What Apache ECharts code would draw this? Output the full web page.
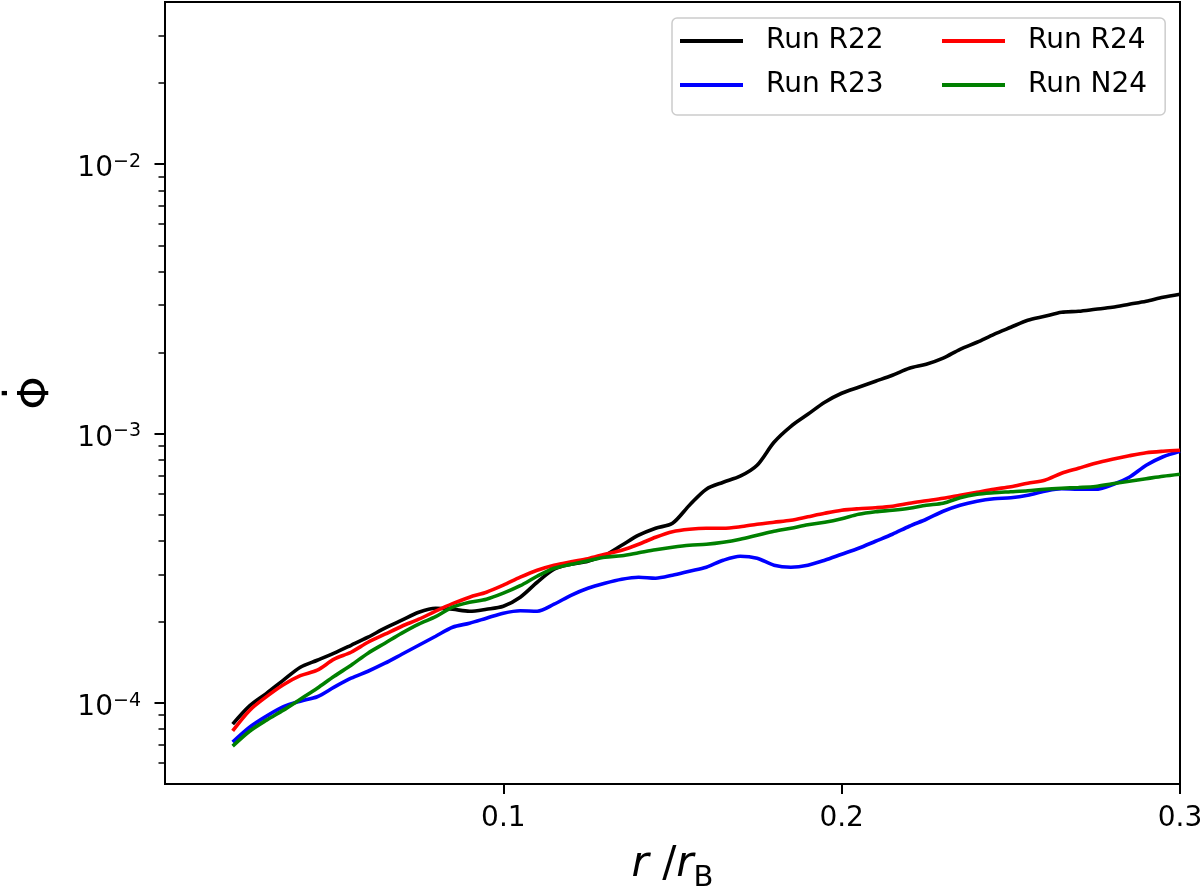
<!DOCTYPE html>
<html>
<head>
<meta charset="utf-8">
<title>Phi dot vs r / rB</title>
<script src="https://cdn.jsdelivr.net/npm/echarts@6/dist/echarts.min.js"></script>
<style>
  html, body { margin: 0; padding: 0; background: #ffffff; }
  #chart { width: 1200px; height: 888px; }
</style>
</head>
<body>
<div id="chart"></div>
<script>
// r / r_B sample positions
const rOverRB = [
  0.020, 0.025, 0.030, 0.035, 0.040, 0.045, 0.050, 0.055, 0.060, 0.065,
  0.070, 0.075, 0.080, 0.085, 0.090, 0.095, 0.100, 0.105, 0.110, 0.115,
  0.120, 0.125, 0.130, 0.135, 0.140, 0.145, 0.150, 0.155, 0.160, 0.165,
  0.170, 0.175, 0.180, 0.185, 0.190, 0.195, 0.200, 0.205, 0.210, 0.215,
  0.220, 0.225, 0.230, 0.235, 0.240, 0.245, 0.250, 0.255, 0.260, 0.265,
  0.270, 0.275, 0.280, 0.285, 0.290, 0.295, 0.300
];

// Phi-dot per run
const phiR22 = [
  8.34e-5, 9.75e-5, 1.085e-4, 1.215e-4, 1.357e-4, 1.44e-4, 1.53e-4, 1.637e-4, 1.754e-4, 1.894e-4,
  2.028e-4, 2.171e-4, 2.246e-4, 2.227e-4, 2.19e-4, 2.227e-4, 2.285e-4, 2.469e-4, 2.805e-4, 3.135e-4,
  3.272e-4, 3.357e-4, 3.534e-4, 3.849e-4, 4.194e-4, 4.452e-4, 4.645e-4, 5.42e-4, 6.214e-4, 6.596e-4,
  6.943e-4, 7.626e-4, 9.284e-4, 1.064e-3, 1.179e-3, 1.307e-3, 1.411e-3, 1.486e-3, 1.564e-3, 1.646e-3,
  1.747e-3, 1.808e-3, 1.904e-3, 2.055e-3, 2.182e-3, 2.336e-3, 2.481e-3, 2.634e-3, 2.725e-3, 2.82e-3,
  2.844e-3, 2.893e-3, 2.943e-3, 3.02e-3, 3.098e-3, 3.206e-3, 3.289e-3
];
const phiR23 = [
  7.15e-5, 8.12e-5, 8.93e-5, 9.68e-5, 1.015e-4, 1.054e-4, 1.144e-4, 1.235e-4, 1.311e-4, 1.404e-4,
  1.516e-4, 1.637e-4, 1.768e-4, 1.91e-4, 1.976e-4, 2.063e-4, 2.153e-4, 2.199e-4, 2.19e-4, 2.325e-4,
  2.51e-4, 2.666e-4, 2.782e-4, 2.879e-4, 2.929e-4, 2.904e-4, 2.979e-4, 3.083e-4, 3.19e-4, 3.386e-4,
  3.503e-4, 3.444e-4, 3.245e-4, 3.19e-4, 3.245e-4, 3.386e-4, 3.565e-4, 3.752e-4, 3.983e-4, 4.228e-4,
  4.528e-4, 4.807e-4, 5.147e-4, 5.419e-4, 5.608e-4, 5.728e-4, 5.777e-4, 5.902e-4, 6.107e-4, 6.239e-4,
  6.213e-4, 6.213e-4, 6.457e-4, 6.884e-4, 7.626e-4, 8.2e-4, 8.597e-4
];
const phiR24 = [
  7.87e-5, 9.38e-5, 1.055e-4, 1.168e-4, 1.262e-4, 1.323e-4, 1.453e-4, 1.542e-4, 1.68e-4, 1.799e-4,
  1.926e-4, 2.045e-4, 2.19e-4, 2.335e-4, 2.469e-4, 2.576e-4, 2.735e-4, 2.929e-4, 3.109e-4, 3.245e-4,
  3.343e-4, 3.43e-4, 3.565e-4, 3.688e-4, 3.882e-4, 4.121e-4, 4.32e-4, 4.413e-4, 4.452e-4, 4.452e-4,
  4.508e-4, 4.605e-4, 4.686e-4, 4.766e-4, 4.911e-4, 5.06e-4, 5.191e-4, 5.258e-4, 5.303e-4, 5.371e-4,
  5.511e-4, 5.63e-4, 5.751e-4, 5.902e-4, 6.055e-4, 6.214e-4, 6.347e-4, 6.54e-4, 6.71e-4, 7.122e-4,
  7.433e-4, 7.759e-4, 8.028e-4, 8.272e-4, 8.487e-4, 8.597e-4, 8.67e-4
];
const phiN24 = [
  6.91e-5, 7.85e-5, 8.63e-5, 9.40e-5, 1.032e-4, 1.134e-4, 1.256e-4, 1.38e-4, 1.53e-4, 1.666e-4,
  1.815e-4, 1.96e-4, 2.089e-4, 2.266e-4, 2.364e-4, 2.426e-4, 2.555e-4, 2.723e-4, 2.953e-4, 3.162e-4,
  3.272e-4, 3.371e-4, 3.474e-4, 3.519e-4, 3.61e-4, 3.704e-4, 3.784e-4, 3.849e-4, 3.882e-4, 3.949e-4,
  4.052e-4, 4.193e-4, 4.339e-4, 4.452e-4, 4.587e-4, 4.686e-4, 4.828e-4, 5.015e-4, 5.124e-4, 5.191e-4,
  5.281e-4, 5.419e-4, 5.512e-4, 5.777e-4, 5.953e-4, 6.03e-4, 6.081e-4, 6.134e-4, 6.213e-4, 6.266e-4,
  6.304e-4, 6.358e-4, 6.512e-4, 6.653e-4, 6.796e-4, 6.943e-4, 7.063e-4
];

// tick positions
const xTicks = [0.1, 0.2, 0.3];
const yMajorTicks = [1e-4, 1e-3, 1e-2];
const yMinorTicks = [
  6e-5, 7e-5, 8e-5, 9e-5,
  2e-4, 3e-4, 4e-4, 5e-4, 6e-4, 7e-4, 8e-4, 9e-4,
  2e-3, 3e-3, 4e-3, 5e-3, 6e-3, 7e-3, 8e-3, 9e-3,
  2e-2, 3e-2
];
const yLabels = { '0.0001': '−4', '0.001': '−3', '0.01': '−2' };

const runs = [
  { name: 'Run R22', values: phiR22, color: '#000000' },
  { name: 'Run R23', values: phiR23, color: '#0000ff' },
  { name: 'Run R24', values: phiR24, color: '#ff0000' },
  { name: 'Run N24', values: phiN24, color: '#008000' },
];

const FONT = 'DejaVu Sans';

const chart = echarts.init(document.getElementById('chart'), null, { renderer: 'canvas' });

const option = {
  animation: false,
  backgroundColor: '#ffffff',
  textStyle: { fontFamily: FONT, color: '#000' },
  grid: {
    left: 165, right: 20, top: 2, bottom: 104,
    containLabel: false, outerBoundsMode: 'none',
    show: true, borderColor: '#000', borderWidth: 2, backgroundColor: 'transparent'
  },
  legend: {
    orient: 'vertical',
    left: 672, top: 18, height: 100,
    padding: [9, 18, 16, 8],
    itemGap: 16, itemWidth: 63, itemHeight: 4,
    icon: 'rect',
    backgroundColor: 'rgba(255,255,255,0.8)',
    borderColor: '#cccccc', borderWidth: 1.5, borderRadius: 5,
    textStyle: { fontFamily: FONT, fontSize: 28, color: '#000', lineHeight: 28, padding: [0, 0, 0, 18] },
    data: [
      { name: 'Run R22', textStyle: { width: 160 } },
      { name: 'Run R23', textStyle: { width: 160 } },
      'Run R24',
      'Run N24'
    ]
  },
  xAxis: {
    type: 'value', min: 0, max: 0.3,
    splitLine: { show: false },
    axisLine: { lineStyle: { color: '#000', width: 2 } },
    axisTick: { customValues: xTicks, length: 10, lineStyle: { color: '#000', width: 2 } },
    axisLabel: {
      customValues: xTicks, margin: 21, fontSize: 28, fontFamily: FONT, color: '#000',
      formatter: (v) => v.toFixed(1)
    },
    name: '{i|r} /{i|r}{sub|B}',
    nameLocation: 'middle', nameGap: 60,
    nameTextStyle: {
      fontFamily: FONT, fontSize: 42, lineHeight: 42, color: '#000',
      rich: {
        i: { fontFamily: FONT, fontSize: 42, fontStyle: 'italic' },
        sub: { fontFamily: FONT, fontSize: 29, verticalAlign: 'top', padding: [20, 0, 0, 0] }
      }
    }
  },
  yAxis: [
    {
      type: 'log', logBase: 10, min: 5e-5, max: 0.04, position: 'left',
      splitLine: { show: false },
      axisLine: { show: true, lineStyle: { color: '#000', width: 2 } },
      axisTick: { customValues: yMajorTicks, length: 10.5, lineStyle: { color: '#000', width: 2 } },
      axisLabel: {
        customValues: yMajorTicks, margin: 24, color: '#000',
        padding: [10, 0, 0, 0],
        formatter: (v) => '{b|10}{s|' + (yLabels[String(v)] || '') + '}',
        rich: {
          b: { fontFamily: FONT, fontSize: 28, lineHeight: 33 },
          s: { fontFamily: FONT, fontSize: 19, verticalAlign: 'top' }
        }
      },
      // Phi with a dot above (rotated, so the dot sits on the left)
      name: '{d|·}\n{p|Φ}',
      nameLocation: 'middle', nameGap: 107, nameRotate: 90,
      nameTextStyle: {
        fontFamily: FONT, fontSize: 42, color: '#000',
        rich: {
          d: { fontFamily: FONT, fontSize: 42, lineHeight: 16 },
          p: { fontFamily: FONT, fontSize: 42, lineHeight: 42 }
        }
      }
    },
    {
      // minor ticks only
      type: 'log', logBase: 10, min: 5e-5, max: 0.04, position: 'left', offset: 0,
      splitLine: { show: false },
      axisLine: { show: false },
      axisTick: { show: true, customValues: yMinorTicks, length: 6.5, lineStyle: { color: '#000', width: 1.5 } },
      axisLabel: { show: false }
    }
  ],
  series: runs.map((run) => ({
    name: run.name,
    type: 'line',
    yAxisIndex: 0,
    data: rOverRB.map((r, i) => [r, run.values[i]]),
    symbol: 'none',
    showSymbol: false,
    smooth: 0.3,
    color: run.color,
    lineStyle: { color: run.color, width: 3.6 },
  })),
};

chart.setOption(option);
</script>
</body>
</html>
